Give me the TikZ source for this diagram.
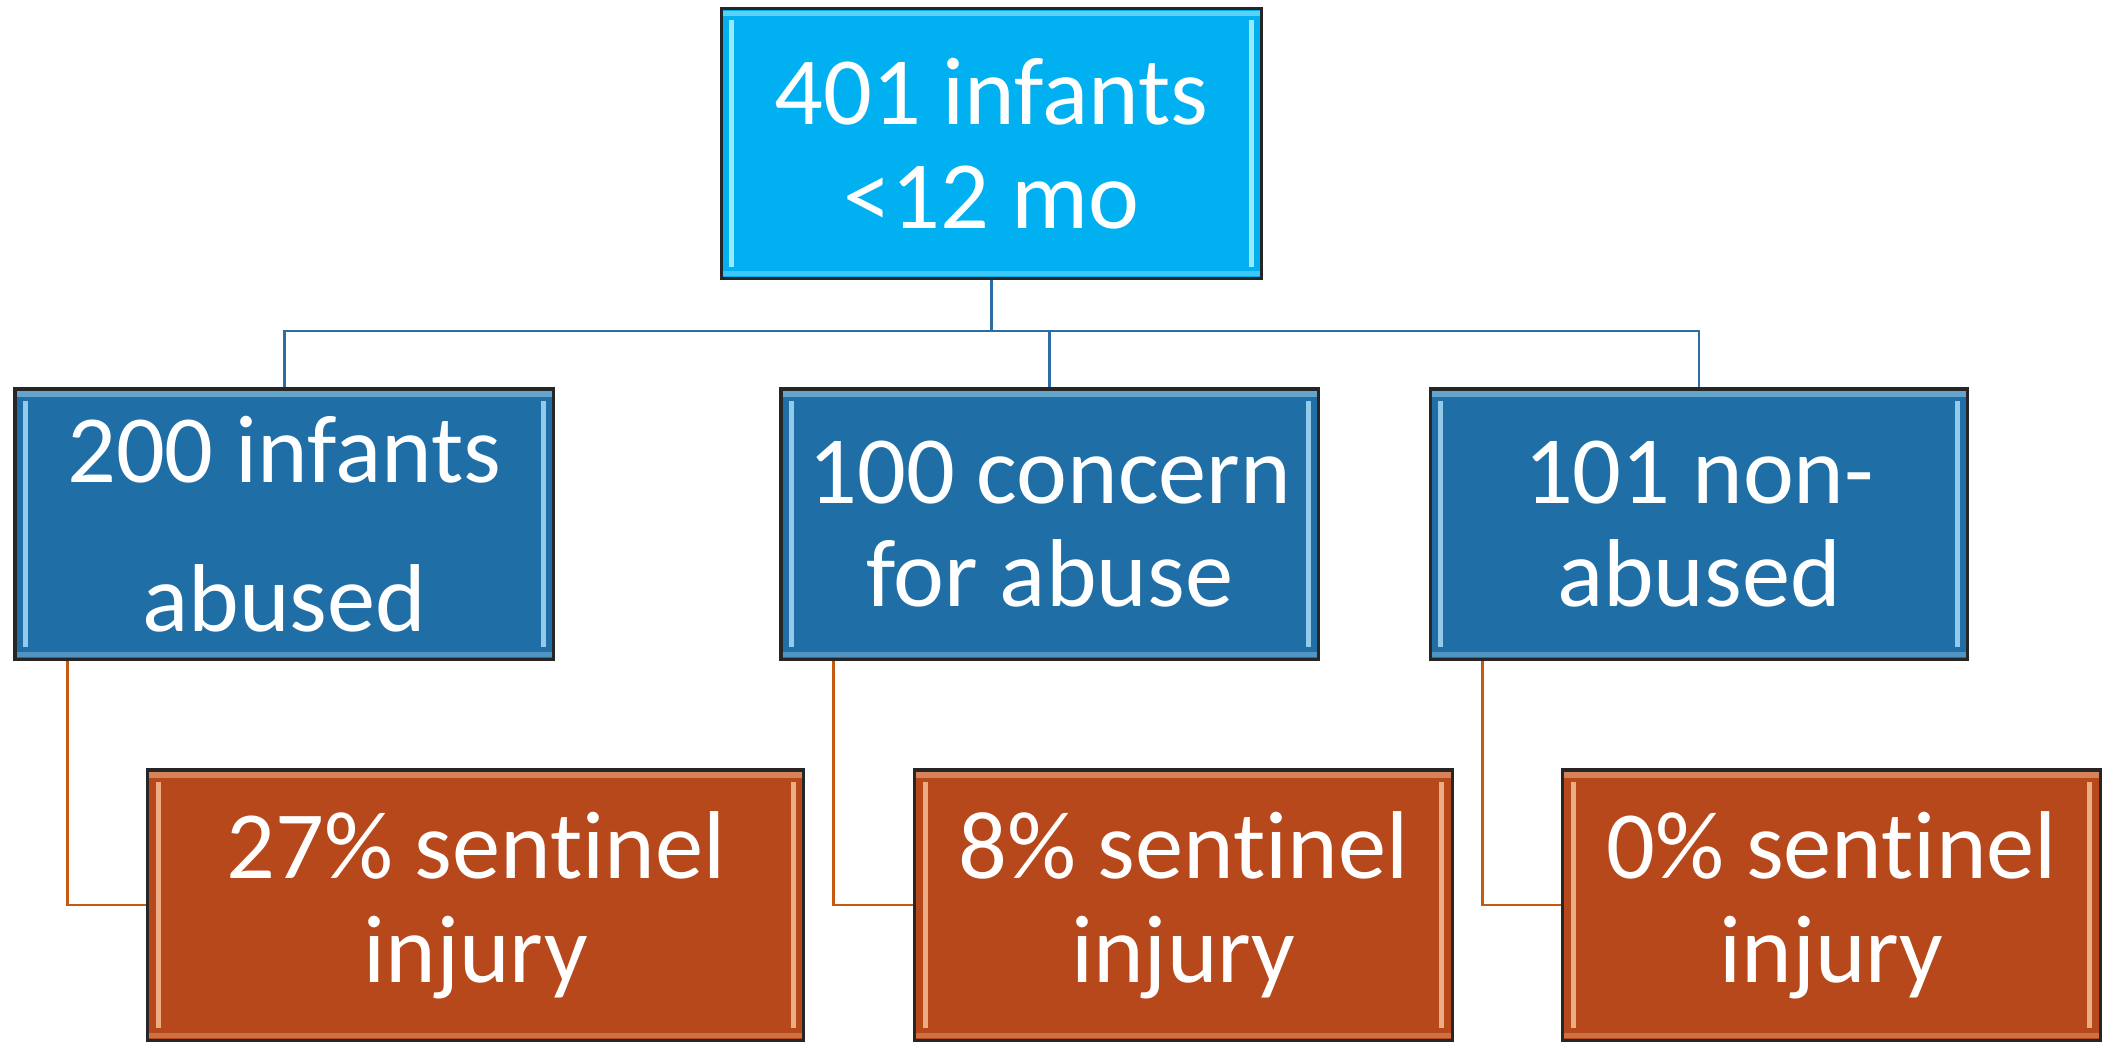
\documentclass[tikz,border=0pt]{standalone}
\usepackage{fontspec}
\setmainfont{Carlito}[Ligatures={NoCommon,NoRare}]
\usetikzlibrary{fit}
\definecolor{toptile}{HTML}{00B0F0}
\definecolor{grouptile}{HTML}{1F6EA6}
\definecolor{injurytile}{HTML}{B7481B}
\definecolor{cyanlight}{HTML}{B4F4FF}
\definecolor{bluelight}{HTML}{A9DCF7}
\definecolor{orangelight}{HTML}{F6BE97}
\definecolor{bluelinkcol}{HTML}{2E6DA4}
\definecolor{orangelinkcol}{HTML}{C55A11}
\begin{document}
\begin{tikzpicture}
\tikzset{tile/.style={draw=black!85,line width=0.9pt,text=white,align=center,inner sep=0pt,minimum height=2.71cm,anchor=center,font=\fontsize{27.5}{29.5}\selectfont}}
\tikzset{bevel/.style={path picture={
  \fill[#1,opacity=0.85] ([xshift=0.08cm,yshift=0.12cm]path picture bounding box.south west) rectangle ([xshift=0.13cm,yshift=-0.12cm]path picture bounding box.north west);
  \fill[#1,opacity=0.85] ([xshift=-0.13cm,yshift=0.12cm]path picture bounding box.south east) rectangle ([xshift=-0.08cm,yshift=-0.12cm]path picture bounding box.north east);
  \draw[#1,line width=1.5pt,opacity=0.5] ([yshift=-0.05cm]path picture bounding box.north west) -- ([yshift=-0.05cm]path picture bounding box.north east);
  \draw[#1,line width=1.5pt,opacity=0.35] ([yshift=0.05cm]path picture bounding box.south west) -- ([yshift=0.05cm]path picture bounding box.south east);
}}}
\tikzset{bluelink/.style={draw=bluelinkcol,line width=0.75pt}}
\tikzset{orangelink/.style={draw=orangelinkcol,line width=0.75pt}}

\node[use as bounding box,inner sep=0pt,fit={(0,0) (21.02,10.41)}]{};

\node[tile,fill=toptile,bevel=cyanlight,minimum width=5.42cm] (infants) at (9.94,8.97) {401 infants\\<12 mo};

\node[tile,fill=grouptile,bevel=bluelight,minimum width=5.40cm] (abused) at (2.85,5.155) {200 infants\\[0.45cm]abused};
\node[tile,fill=grouptile,bevel=bluelight,minimum width=5.39cm] (concern) at (10.525,5.155) {100 concern\\for abuse};
\node[tile,fill=grouptile,bevel=bluelight,minimum width=5.39cm] (nonabused) at (17.035,5.155) {101 non-\\abused};

\node[tile,fill=injurytile,bevel=orangelight,minimum width=6.58cm] (sentabused) at (4.77,1.335) {27\% sent\kern0pt inel\\injury};
\node[tile,fill=injurytile,bevel=orangelight,minimum width=5.39cm] (sentconcern) at (11.865,1.335) {8\% sent\kern0pt inel\\injury};
\node[tile,fill=injurytile,bevel=orangelight,minimum width=5.39cm] (sentnon) at (18.365,1.335) {0\% sent\kern0pt inel\\injury};

\coordinate (bus) at (0,7.09);
\path[bluelink] (infants.south) -- (infants.south |- bus);
\foreach \child in {abused,concern,nonabused} {
  \path[bluelink] (infants.south |- bus) -| (\child.north);
}

\path[orangelink] ([xshift=0.54cm]abused.south west) |- (sentabused.west);
\path[orangelink] ([xshift=0.54cm]concern.south west) |- (sentconcern.west);
\path[orangelink] ([xshift=0.54cm]nonabused.south west) |- (sentnon.west);
\end{tikzpicture}
\end{document}
